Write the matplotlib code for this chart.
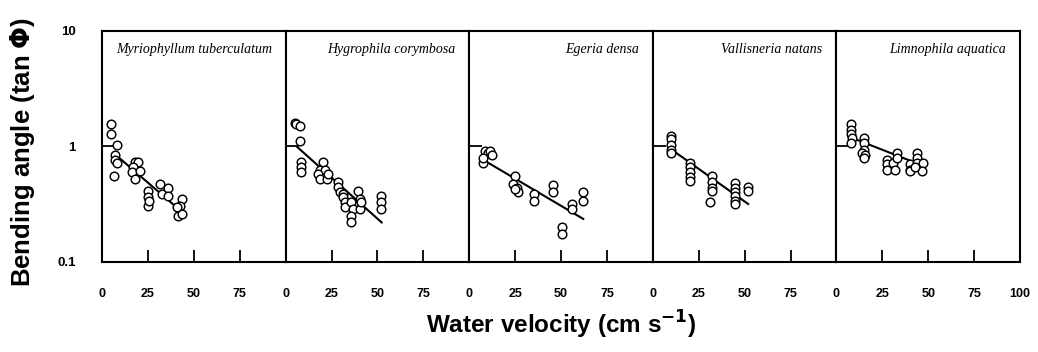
import numpy as np
import matplotlib
matplotlib.use("Agg")
import matplotlib.pyplot as plt

plt.rcParams['font.family'] = ['Liberation Sans', 'DejaVu Sans']
plt.rcParams['axes.linewidth'] = 1.5

# ------------------------------------------------------------
# data (x: cm/s, y: tan phi)
# ------------------------------------------------------------
species = ["Myriophyllum tuberculatum", "Hygrophila corymbosa", "Egeria densa",
           "Vallisneria natans", "Limnophila aquatica"]

myr_x = [4.9, 4.9, 8.0, 7.1, 7.1, 8.0, 6.5, 18.0, 19.6, 16.9, 16.3, 18.0, 20.7,
         25.1, 25.1, 25.1, 25.6, 31.6, 32.7, 35.9, 35.9, 43.6, 42.5, 41.4, 43.6, 40.8]
myr_y = [1.55, 1.27, 1.04, 0.85, 0.77, 0.72, 0.56, 0.73, 0.73, 0.66, 0.60, 0.52, 0.61,
         0.41, 0.365, 0.305, 0.34, 0.47, 0.39, 0.44, 0.37, 0.35, 0.305, 0.25, 0.26, 0.30]

hyg_x = [5.0, 5.7, 7.7, 7.7, 8.4, 8.4, 8.4, 20.4, 18.6, 21.3, 17.6, 18.6, 22.4, 23.1,
         28.5, 28.5, 29.5, 31.3, 31.3, 32.2, 32.2, 35.8, 36.7, 35.8, 35.8, 39.4, 40.4,
         40.4, 41.2, 52.1, 52.1, 52.1]
hyg_y = [1.6, 1.55, 1.49, 1.11, 0.73, 0.66, 0.60, 0.73, 0.63, 0.63, 0.575, 0.52, 0.52,
         0.575, 0.49, 0.445, 0.40, 0.39, 0.365, 0.33, 0.30, 0.33, 0.29, 0.25, 0.22, 0.41,
         0.35, 0.29, 0.33, 0.37, 0.33, 0.29]

ege_x = [8.6, 10.4, 11.3, 7.7, 7.7, 12.3, 24.9, 24.0, 25.9, 26.7, 24.9, 35.5, 35.5,
         45.8, 45.8, 50.4, 50.4, 55.8, 55.8, 62.1, 62.1]
ege_y = [0.91, 0.88, 0.91, 0.72, 0.80, 0.85, 0.56, 0.47, 0.44, 0.40, 0.43, 0.39, 0.34,
         0.46, 0.40, 0.20, 0.176, 0.32, 0.29, 0.40, 0.34]

val_x = [10.1, 10.1, 10.1, 10.1, 10.1, 20.2, 20.2, 20.2, 20.2, 20.2, 32.1, 32.1, 32.1,
         32.1, 31.0, 44.9, 44.9, 44.9, 44.9, 44.9, 44.9, 51.7, 51.7]
val_y = [1.24, 1.15, 1.04, 0.94, 0.88, 0.72, 0.66, 0.60, 0.54, 0.50, 0.55, 0.49, 0.44,
         0.41, 0.33, 0.48, 0.44, 0.40, 0.37, 0.34, 0.32, 0.45, 0.41]

lim_x = [7.7, 7.7, 7.7, 8.6, 8.1, 14.8, 14.8, 14.8, 13.9, 15.7, 14.8, 27.4, 27.4, 27.4,
         31.0, 31.9, 32.8, 32.8, 40.1, 40.1, 40.1, 43.7, 43.7, 43.7, 47.3, 46.5, 42.8]
lim_y = [1.55, 1.40, 1.27, 1.19, 1.08, 1.19, 1.08, 0.94, 0.88, 0.85, 0.80, 0.77, 0.70,
         0.63, 0.72, 0.63, 0.88, 0.80, 0.70, 0.63, 0.61, 0.88, 0.80, 0.72, 0.72, 0.61, 0.66]

# fitted lines (start / end points)
fit_x = [[6.2, 42.5], [6.0, 52.3], [8.6, 62.1], [10.2, 51.9], [8.3, 47.3]]
fit_y = [[0.88, 0.28], [1.0, 0.22], [0.75, 0.236], [0.94, 0.318], [1.19, 0.68]]

xs = [myr_x, hyg_x, ege_x, val_x, lim_x]
ys = [myr_y, hyg_y, ege_y, val_y, lim_y]

TICK_FONT = ['Liberation Sans Narrow', 'Liberation Sans', 'DejaVu Sans']

# ------------------------------------------------------------
fig = plt.figure(figsize=(10.38, 3.52), dpi=100, facecolor='white')
gs = fig.add_gridspec(1, 5, wspace=0, left=0.0983, right=0.9827, bottom=0.2557, top=0.912)
axes = [fig.add_subplot(gs[0, i]) for i in range(5)]

for i, ax in enumerate(axes):
    ax.plot(xs[i], ys[i], 'o', ms=6.2, mfc='white', mec='black', mew=1.05, zorder=3)
    ax.plot(fit_x[i], fit_y[i], '-', color='black', lw=1.5, zorder=2)
    ax.set_yscale('log')
    ax.set_ylim(0.1, 10)
    ax.set_xlim(0, 100)
    ax.minorticks_off()
    ax.set_yticks([0.1, 1, 10])
    if i == 4:
        ax.set_xticks([0, 25, 50, 75, 100])
    else:
        ax.set_xticks([0, 25, 50, 75])
    ax.tick_params(axis='x', direction='in', length=8.5, width=1.3, pad=19, labelsize=9)
    ax.tick_params(axis='y', direction='in', length=9, width=1.3, pad=19, labelsize=9.5)
    if i == 0:
        ax.set_yticklabels(["0.1", "1", "10"])
    else:
        ax.set_yticklabels([])
    for lab in ax.get_xticklabels() + ax.get_yticklabels():
        lab.set_fontweight('bold')
        lab.set_family(TICK_FONT)
    ax.text(0.924, 0.918, species[i], transform=ax.transAxes, ha='right', va='center',
            fontsize=10, fontstyle='italic', family=['Liberation Serif', 'DejaVu Serif'])

fig.text(0.022, 0.568, r"Bending angle (tan $\mathbf{\Phi}$)", rotation=90, ha='center',
         va='center', fontsize=18.5, fontweight='bold')
fig.text(0.541, 0.077, r"Water velocity (cm s$^{\mathbf{-1}}$)", ha='center', va='center',
         fontsize=17.5, fontweight='bold')

plt.savefig("out.png", dpi=100, facecolor='white')
